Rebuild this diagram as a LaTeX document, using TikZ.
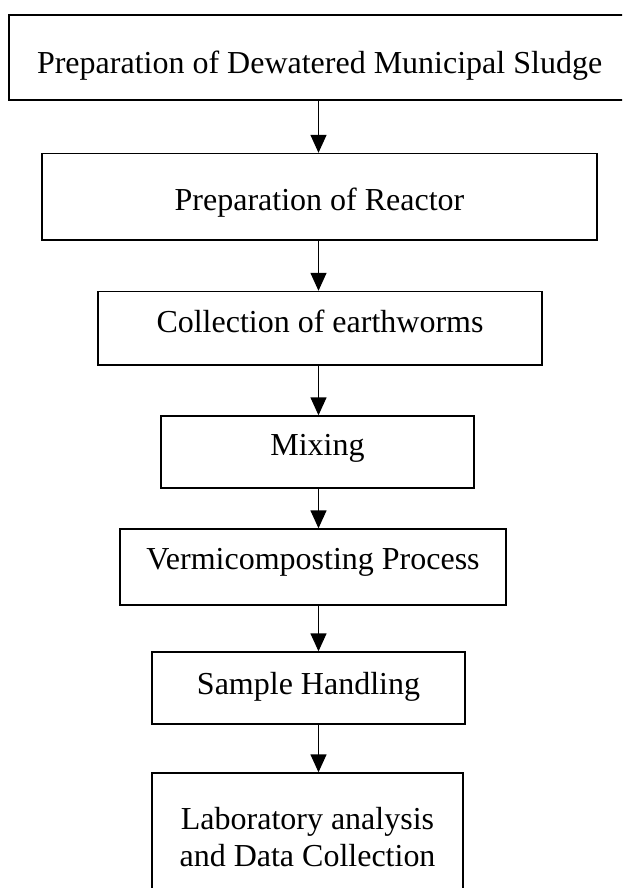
\documentclass[tikz,border=0pt]{standalone}
\usepackage{fontspec}
\setmainfont{Liberation Serif}
\usetikzlibrary{arrows.meta}

\begin{document}
\begin{tikzpicture}[
	stage/.style={draw, line width=1pt, inner sep=0pt, align=center,
		font=\fontsize{22.76}{25.97}\selectfont},
	lift/.style={text height=#1, text depth=0pt},
	flow/.style={line width=1pt, -{Triangle[length=0.45cm,width=0.4cm]}}
	]

\useasboundingbox (0,0) rectangle (15.55,-22.2);
\clip (0,0) rectangle (15.55,-22.2);

\coordinate (spine) at (7.9625,0);

\node[stage,lift=0.795cm,minimum width=15.52cm,minimum height=2.125cm] (sludge) at (7.99,-1.4375) {Preparation of Dewatered Municipal Sludge};

\node[stage,lift=0.6625cm,minimum width=13.875cm,minimum height=2.1625cm] (reactor) at (7.9875,-4.919) {Preparation of Reactor};

\node[stage,lift=0.2125cm,minimum width=11.1cm,minimum height=1.8375cm] (worms) at (8.0,-8.206) {Collection of earthworms};

\node[stage,lift=0.175cm,minimum width=7.825cm,minimum height=1.8cm] (mixing) at (7.9375,-11.3) {Mixing};

\node[stage,lift=0.125cm,minimum width=9.65cm,minimum height=1.9cm] (vermi) at (7.825,-14.175) {Vermicomposting Process};

\node[stage,lift=0.33cm,minimum width=7.825cm,minimum height=1.8cm] (sample) at (7.7125,-17.2) {Sample Handling};

\node[stage,minimum width=7.775cm,minimum height=3.19cm] (lab) at (7.6875,-20.92) {Laboratory analysis\\and Data Collection};

\draw[flow] (sludge.south -| spine) -- (reactor.north -| spine);
\draw[flow] (reactor.south -| spine) -- (worms.north -| spine);
\draw[flow] (worms.south -| spine) -- (mixing.north -| spine);
\draw[flow] (mixing.south -| spine) -- (vermi.north -| spine);
\draw[flow] (vermi.south -| spine) -- (sample.north -| spine);
\draw[flow] (sample.south -| spine) -- (lab.north -| spine);

\end{tikzpicture}
\end{document}
